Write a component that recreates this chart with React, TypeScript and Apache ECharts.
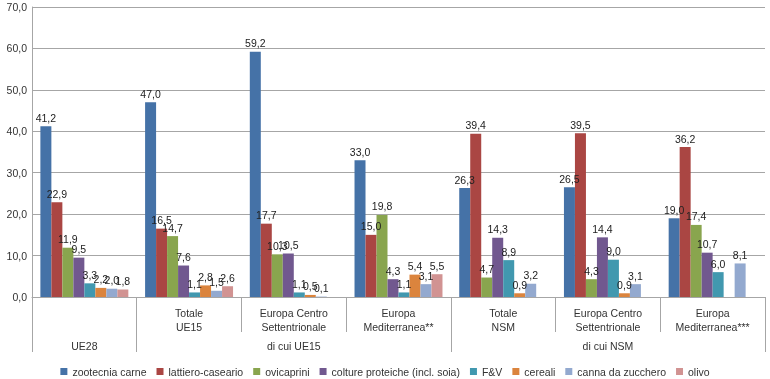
import React, { useEffect, useRef } from "react";
import * as echarts from "echarts";

const categories = [
  "",
  "Totale\nUE15",
  "Europa Centro\nSettentrionale",
  "Europa\nMediterranea**",
  "Totale\nNSM",
  "Europa Centro\nSettentrionale",
  "Europa\nMediterranea***",
];
const groupLabels = ["UE28", "", "di cui UE15", "", "", "di cui NSM", ""];

const seriesNames = [
  "zootecnia carne",
  "lattiero-caseario",
  "ovicaprini",
  "colture proteiche (incl. soia)",
  "F&V",
  "cereali",
  "canna da zucchero",
  "olivo",
];

const zootecnia = [41.2, 47.0, 59.2, 33.0, 26.3, 26.5, 19.0];
const lattiero = [22.9, 16.5, 17.7, 15.0, 39.4, 39.5, 36.2];
const ovicaprini = [11.9, 14.7, 10.3, 19.8, 4.7, 4.3, 17.4];
const colture = [9.5, 7.6, 10.5, 4.3, 14.3, 14.4, 10.7];
const fv = [3.3, 1.1, 1.1, 1.1, 8.9, 9.0, 6.0];
const cereali = [2.2, 2.8, 0.5, 5.4, 0.9, 0.9, null];
const canna = [2.0, 1.5, 0.1, 3.1, 3.2, 3.1, 8.1];
const olivo = [1.8, 2.6, null, 5.5, null, null, null];

const seriesData = [zootecnia, lattiero, ovicaprini, colture, fv, cereali, canna, olivo];
const colors = ["#4572A7", "#AA4643", "#89A54E", "#71588F", "#4198AF", "#DB843D", "#93A9CF", "#D19392"];

const FONT = "Liberation Sans";
const fmt = (v: number) => v.toFixed(1).replace(".", ",");

export default function App() {
  const ref = useRef<HTMLDivElement>(null);
  useEffect(() => {
    if (!ref.current) return;
    const chart = echarts.init(ref.current, undefined, { renderer: "svg" });
    chart.setOption({
      animation: false,
      textStyle: { fontFamily: FONT },
      color: colors,
      grid: { left: 32, right: 5, top: 7, bottom: 82, containLabel: false },
      legend: {
        top: 361,
        left: "center",
        icon: "rect",
        itemWidth: 7,
        itemHeight: 7,
        itemGap: 10,
        textStyle: { fontFamily: FONT, fontSize: 10.5, color: "#333" },
        data: seriesNames,
      },
      xAxis: [
        {
          type: "category",
          data: categories,
          position: "bottom",
          axisLine: { show: true, lineStyle: { color: "#a6a6a6" } },
          axisTick: { show: true, interval: 0, length: 35, lineStyle: { color: "#a6a6a6" } },
          axisLabel: {
            interval: 0,
            margin: 9,
            fontSize: 10.5,
            lineHeight: 14,
            color: "#333",
            fontFamily: FONT,
          },
          splitLine: { show: false },
        },
        {
          type: "category",
          data: groupLabels,
          position: "bottom",
          axisLine: { show: false },
          axisTick: {
            show: true,
            length: 55,
            interval: (i: number) => i === 0 || i === 1 || i === 4,
            lineStyle: { color: "#a6a6a6" },
          },
          axisLabel: { interval: 0, margin: 43, fontSize: 10.5, color: "#333", fontFamily: FONT },
          splitLine: { show: false },
        },
      ],
      yAxis: {
        type: "value",
        min: 0,
        max: 70,
        interval: 10,
        axisLine: { show: true, lineStyle: { color: "#a6a6a6" } },
        axisTick: { show: false },
        axisLabel: { formatter: (v: number) => fmt(v), fontSize: 10.5, color: "#333", margin: 5, fontFamily: FONT },
        splitLine: { show: true, lineStyle: { color: "#a6a6a6" } },
      },
      series: seriesNames.map((name, i) => ({
        name,
        type: "bar",
        xAxisIndex: 0,
        data: seriesData[i],
        barGap: "0%",
        barCategoryGap: "16%",
        itemStyle: { color: colors[i] },
        label: {
          show: true,
          position: "top",
          distance: 3,
          fontSize: 10.5,
          color: "#222",
          fontFamily: FONT,
          formatter: (p: any) => (p.value == null ? "" : fmt(p.value)),
        },
      })),
    });
    return () => chart.dispose();
  }, []);
  return (
    <div
      ref={ref}
      style={{ position: "fixed", left: 0, top: 0, width: 770, height: 379 }}
    />
  );
}
